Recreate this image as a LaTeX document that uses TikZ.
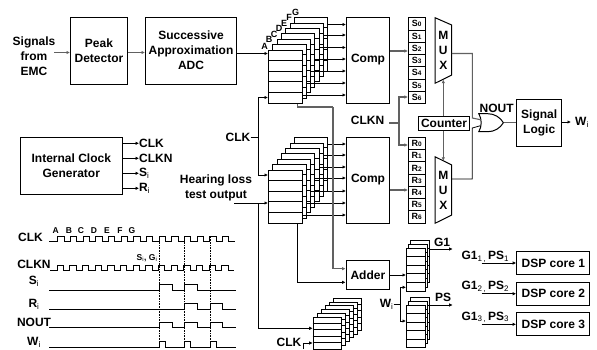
\documentclass[tikz,border=0pt]{standalone}
\usepackage{fontspec}
\setmainfont{Liberation Sans}
\usepackage{tikz}
\usetikzlibrary{arrows.meta,positioning,calc,shapes.gates.logic.US}
\newcommand{\subi}{\textsubscript{\mdseries i}}
\tikzset{
  block/.style={draw, line width=1pt, fill=white, align=center, inner sep=0pt, font=\fontsize{12}{15}\selectfont\bfseries},
  lbl/.style={inner sep=0pt, align=center, font=\fontsize{12}{15}\selectfont\bfseries},
  tinylbl/.style={inner sep=0pt, font=\fontsize{8.5}{10}\selectfont\bfseries},
  arr/.style={-{Latex[length=3.5pt,width=3.5pt]}, line width=.8pt},
  softarr/.style={arr, line width=1.1pt, color=black!62},
  wire/.style={line width=.8pt},
  softwire/.style={line width=1.1pt, color=black!62},
  layer/.style={draw, line width=.8pt, fill=white, anchor=north west, inner sep=0pt},
  bitcell/.style={draw, line width=.8pt, minimum width=17pt, minimum height=12.25pt, inner sep=0pt, font=\fontsize{9}{10}\selectfont\bfseries},
  wave/.style={line width=.7pt},
  guide/.style={line width=.6pt, densely dotted}
}
% name, front x, front y, width, height, layers, dx, dy, rows
\newcommand{\regstack}[9]{
  \foreach \lay in {#6,...,1}{
    \pgfmathsetmacro{\lx}{#2+(\lay-1)*#7}
    \pgfmathsetmacro{\ly}{#3-(\lay-1)*#8}
    \node[layer,minimum width=#4pt,minimum height=#5pt] (#1\lay) at (\lx,\ly) {};
    \foreach \row in {1,...,#9}{
      \pgfmathsetmacro{\ry}{\ly+\row*#5/(#9+1)}
      \draw[wire] (\lx,\ry) -- ++(#4,0);
    }
  }
}
\begin{document}
\begin{tikzpicture}[x=1pt,y=-1pt]
  \useasboundingbox (0,0) rectangle (597,349);
  % top chain
  \node[lbl] (emc) at (34,56) {Signals\\from\\EMC};
  \node[block,minimum width=57pt,minimum height=67pt] (peak) at (99,50.5) {Peak\\Detector};
  \node[block,minimum width=91pt,minimum height=67pt] (adc) at (191,50.5) {Successive\\Approximation\\ADC};
  \draw[softarr] (54,52.5) -- (peak.west |- 0,52.5);
  \draw[softarr] (peak.east |- 0,52.5) -- (adc.west |- 0,52.5);
  % shift registers
  \regstack{sa}{268}{49.5}{33.5}{53.5}{7}{4.33}{5.4}{4}
  \regstack{sb}{268}{169.5}{33.5}{53.5}{7}{4.33}{5.4}{4}
  \foreach \lay/\tag/\tx/\ty in {1/A/264.5/46,2/B/269/39,3/C/274/34,4/D/279/28,5/E/284/23,6/F/289/17,7/G/295.5/12.5}
    \node[tinylbl,font=\fontsize{9}{10}\selectfont\bfseries] (tag\tag) at (\tx,\ty) {\tag};
  \node[block,minimum width=43pt,minimum height=86pt] (compa) at (368,60) {Comp};
  \node[block,minimum width=43pt,minimum height=86pt] (compb) at (368,180) {Comp};
  \foreach \lay/\yy in {7/24.5,6/35,5/47.5,4/59,3/71,2/83,1/95}
    \draw[arr] (sa\lay.east |- 0,\yy) -- (compa.west |- 0,\yy);
  \foreach \lay/\yy in {7/144,6/155,5/167,4/178,3/191,2/203,1/215}
    \draw[arr] (sb\lay.east |- 0,\yy) -- (compb.west |- 0,\yy);
  \draw[arr] (adc.east |- 0,53.5) -- (sa1.west |- 0,53.5);
  % clock and test inputs
  \node[lbl] (clkin) at (238,137) {CLK};
  \coordinate (clkjoin) at (258,137);
  \draw[wire] (clkin.east) -- (clkjoin);
  \draw[arr] (clkjoin) |- (sa1.west |- 0,97.5);
  \draw[arr] (clkjoin) |- (sb1.west |- 0,175);
  \node[lbl] (hearing) at (216,188) {Hearing loss\\test output};
  \draw[arr] (234,203) -- (sb1.west |- 0,203);
  % S and R cells
  \foreach \n in {0,...,6}{
    \node[bitcell] (s\n) at (416.8,{23.8+\n*12.25}) {S{\fontsize{6.5}{7}\selectfont\n}};
    \node[bitcell] (r\n) at (416.8,{143.4+\n*12.25}) {R{\fontsize{6.5}{7}\selectfont\n}};
  }
  \draw[softarr] (compa.east |- 0,51) -- (s2.west |- 0,51);
  \draw[softarr] (compb.east |- 0,190) -- (r4.west |- 0,190);
  \node[lbl] (clkn) at (367.5,120.5) {CLKN};
  \coordinate (clknjoin) at (399,123);
  \draw[softwire] (389,123) -- (clknjoin);
  \draw[softarr] (clknjoin) |- (s6.west |- 0,97);
  \draw[softarr] (clknjoin) |- (r0.west |- 0,145);
  % mux
  \draw[line width=1pt] (435,17.7) -- (451.7,25) -- (451.7,75) -- (435,83.3) -- cycle;
  \draw[line width=1pt] (435,156.7) -- (451.7,165) -- (451.7,215) -- (435,223.3) -- cycle;
  \node[lbl,minimum width=16.7pt,minimum height=58pt] (muxa) at (443.3,50.5) {M\\U\\X};
  \node[lbl,minimum width=16.7pt,minimum height=58pt] (muxb) at (443.3,190) {M\\U\\X};
  \node[block,minimum width=51.5pt,minimum height=13.5pt] (counter) at (444,123.3) {Counter};
  \draw[softarr] (counter.north -| muxa.south) -- (muxa.south);
  \draw[softarr] (counter.south -| muxb.north) -- (muxb.north);
  \node[or gate US,draw,line width=1pt,logic gate inputs=nn,minimum width=20pt,minimum height=17pt,inner sep=0pt] (orgate) at (489.3,122.7) {};
  \node[lbl] (nout) at (496.7,108) {NOUT};
  \draw[softwire] (muxa.east |- 0,53.5) -| (472.3,118) -- (orgate.input 1);
  \draw[wire] (muxb.east |- 0,179) -| (472.3,128) -- (orgate.input 2);
  \node[block,minimum width=44.5pt,minimum height=47.5pt] (logic) at (539.2,123) {Signal\\Logic};
  \draw[softwire] (orgate.output) -- (logic.west |- orgate.output);
  \draw[arr] (logic.east |- 0,122) -- (571,122);
  \node[lbl,anchor=west] (wout) at (575,122.5) {W\subi};
  % internal clock
  \node[block,minimum width=101.5pt,minimum height=57pt] (gen) at (71.3,165.8) {Internal Clock\\Generator};
  \foreach \yy/\txt/\nm in {143.3/CLK/oa,158.3/CLKN/ob,173.3/S\subi/oc,188.3/R\subi/od}{
    \node[lbl,anchor=west] (\nm) at (139,\yy) {\txt};
    \draw[arr] (gen.east |- \nm.west) -- (\nm.west);
  }
  % adder and lower registers
  \node[block,minimum width=43.7pt,minimum height=28.6pt] (adder) at (367.9,275) {Adder};
  \regstack{sc}{312.7}{316.7}{28}{32}{6}{4}{3.8}{4}
  \regstack{sg}{406}{248.3}{19}{42.4}{3}{2}{4.2}{4}
  \regstack{sp}{406}{305}{19}{42.4}{3}{2}{4.2}{4}
  \draw[softwire] (sa1.south -| 297.7,0) |- (333,107);
  \draw[softarr] (333,107) |- (adder.west |- 0,268.7);
  \draw[arr] (sb1.south -| 297.7,0) |- (adder.west |- 0,282.3);
  \draw[arr] (258,203) |- (sc1.west |- 0,328.3);
  \node[lbl] (clkc) at (289,342.8) {CLK};
  \draw[arr] (303.3,349) |- (sc1.west |- 0,343);
  \draw[arr] (adder.east) -- (sg1.west |- adder.east);
  \node[lbl] (wsel) at (386.7,304.3) {W\subi};
  \coordinate (wjoin) at (400.7,304.3);
  \draw[wire] (wsel.east) -- (wjoin);
  \draw[arr] (wjoin) |- (sg1.west |- 0,287.3);
  \draw[arr] (wjoin) |- (sp1.west |- 0,321);
  \node[lbl] (gone) at (442,242) {G1};
  \node[lbl] (ps) at (443,297.7) {PS};
  \draw[arr] (sg3.east |- 0,249) -- (452.7,249);
  \draw[arr] (sp3.east |- 0,305) -- (452.7,305);
  % DSP cores
  \foreach \n/\yy/\ty in {1/263/256.7,2/293.7/286.7,3/324.3/317.3}{
    \node[block,minimum width=73.3pt,minimum height=22.7pt] (dsp\n) at (553.3,\yy) {DSP core \n};
    \node[lbl] (par\n) at (485.3,\ty) {G1\textsubscript{\mdseries\n\,,}\,PS\textsubscript{\mdseries\n}};
    \draw[arr] (481.7,\yy) -- (dsp\n.west);
  }
  % timing diagram
  \node[lbl] (tclk) at (30.5,237.5) {CLK};
  \node[lbl] (tclkn) at (34,264) {CLKN};
  \node[lbl] (tsi) at (34,281) {S\subi};
  \node[lbl] (tri) at (34,304) {R\subi};
  \node[lbl] (tnout) at (34,322) {NOUT};
  \node[lbl] (twi) at (34,342) {W\subi};
  \foreach \tag/\tx in {A/55.7,B/69,C/81,D/94,E/107,F/120,G/132}
    \node[tinylbl] (t\tag) at (\tx,231) {\tag};
  \node[tinylbl] (sigi) at (147,258) {S\subi, G\subi};
  \draw[wave] (49.3,241.7) -- (57.7,241.7) \foreach \k in {1,...,14}{ -- ++(0,-5) -- ++(6.33,0) -- ++(0,5) -- ++(6.33,0)};
  \draw[wave] (50,270.7) -- (57,270.7) \foreach \k in {1,...,14}{ -- ++(0,-5.5) -- ++(6.33,0) -- ++(0,5.5) -- ++(6.33,0)};
  \foreach \xa in {159,184.3,210}
    \draw[guide] (\xa,237) -- (\xa,341.7);
  \draw[wave] (49.3,290) -- (159,290) -- (159,284) -- (172,284) -- (172,290) -- (184.3,290) -- (184.3,284) -- (197,284) -- (197,290) -- (235.7,290);
  \draw[wave] (49.3,309) -- (184.3,309) -- (184.3,303.3) -- (197,303.3) -- (197,309) -- (210,309) -- (210,303.3) -- (222.5,303.3) -- (222.5,309) -- (235.7,309);
  \draw[wave] (49.3,327.7) -- (159,327.7) -- (159,322.7) -- (172,322.7) -- (172,327.7) -- (184.3,327.7) -- (184.3,322.7) -- (197,322.7) -- (197,327.7) -- (210,327.7) -- (210,322.7) -- (222.5,322.7) -- (222.5,327.7) -- (235.7,327.7);
  \draw[wave] (49.3,347.3) -- (159,347.3) -- (159,341.7) -- (165.3,341.7) -- (165.3,347.3) -- (184.3,347.3) -- (184.3,341.7) -- (190.6,341.7) -- (190.6,347.3) -- (210,347.3) -- (210,341.7) -- (216.5,341.7) -- (216.5,347.3) -- (235.7,347.3);
\end{tikzpicture}
\end{document}
